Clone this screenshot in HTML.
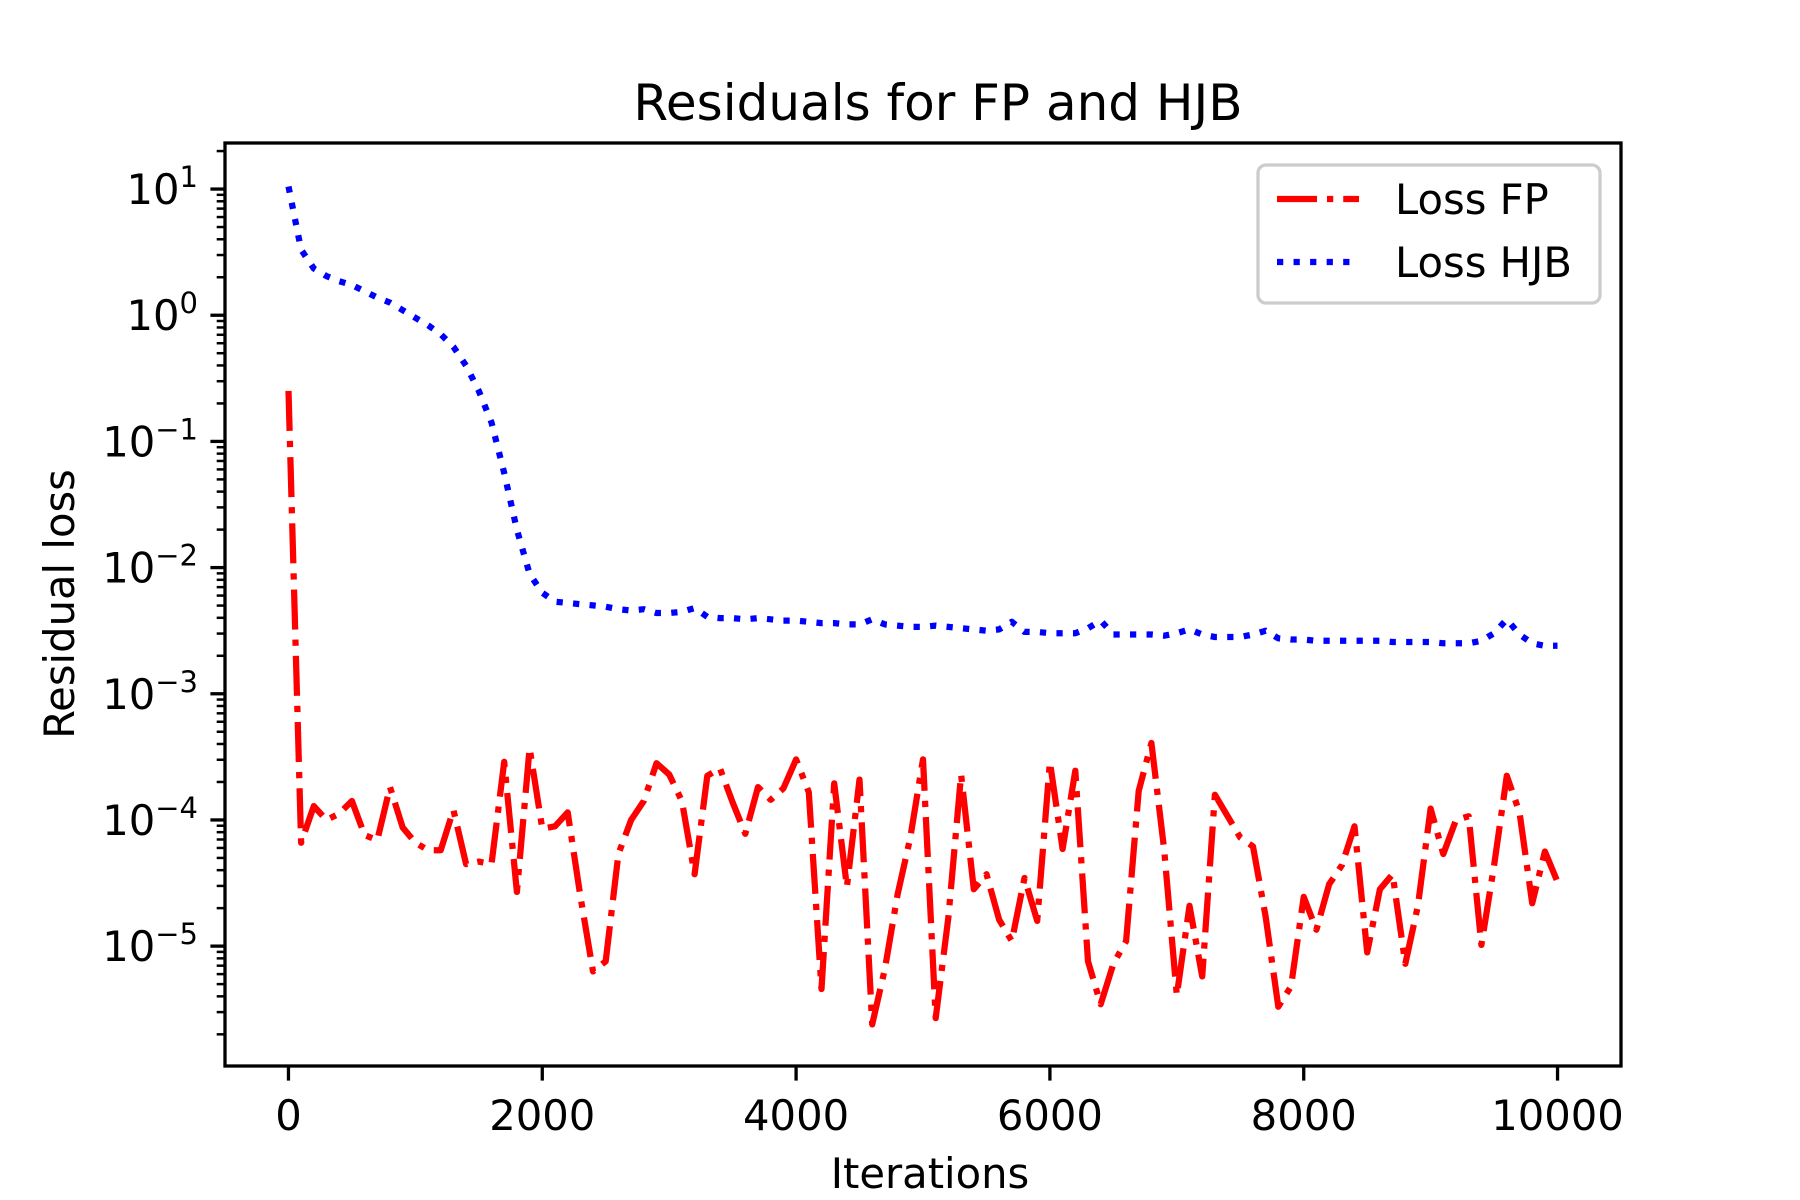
<!DOCTYPE html>
<html><head><meta charset="utf-8"><style>
html,body{margin:0;padding:0;background:#fff;}
svg{display:block;font-family:"DejaVu Sans","Liberation Sans",sans-serif;}
</style></head><body>
<svg id="chart" width="1800" height="1200" viewBox="0 0 1800 1200" xmlns="http://www.w3.org/2000/svg">
<rect width="1800" height="1200" fill="#fff"/>
<text x="938" y="120" font-size="50" text-anchor="middle">Residuals for FP and HJB</text>
<g id="plot"></g>
<g id="axes"></g>
<text x="930" y="1188" font-size="41.7" text-anchor="middle">Iterations</text>
<text x="0" y="0" font-size="41.7" text-anchor="middle" transform="translate(74,604) rotate(-90)">Residual loss</text>
<g>
<rect x="1258" y="165" width="342" height="138" rx="8" fill="#fff" fill-opacity="0.8" stroke="#cccccc" stroke-width="3.3"/>
<g>
<line x1="1277" y1="199" x2="1359" y2="199" stroke="#ff0000" stroke-width="6.25" stroke-dasharray="40,10,6.25,10"/>
<text x="1395" y="214" font-size="41.7">Loss FP</text></g>
<g>
<line x1="1277" y1="262" x2="1359" y2="262" stroke="#0000ff" stroke-width="6.25" stroke-dasharray="6.25,10.3"/>
<text x="1395" y="277" font-size="41.7">Loss HJB</text></g>
</g>
</svg>
<script>
// log10 values sampled every 100 iterations
const fpLog = [-0.6,-4.18,-3.89,-4.0,-3.95,-3.85,-4.12,-4.16,-3.74,-4.06,-4.18,-4.24,-4.24,-3.92,-4.35,-4.33,-4.35,-3.54,-4.57,-3.43,
-4.07,-4.05,-3.94,-4.6,-5.2,-5.12,-4.27,-4.0,-3.85,-3.55,-3.64,-3.85,-4.43,-3.65,-3.59,-3.86,-4.11,-3.74,-3.84,-3.75,
-3.52,-3.78,-5.34,-3.71,-4.53,-3.68,-5.62,-5.18,-4.59,-4.14,-3.52,-5.57,-4.77,-3.64,-4.55,-4.43,-4.79,-4.96,-4.46,-4.8,
-3.54,-4.23,-3.61,-5.12,-5.46,-5.14,-4.96,-3.77,-3.39,-4.23,-5.39,-4.68,-5.24,-3.8,-3.97,-4.14,-4.21,-4.77,-5.48,-5.32,
-4.61,-4.87,-4.51,-4.36,-4.05,-5.05,-4.55,-4.43,-5.14,-4.68,-3.91,-4.27,-4.0,-3.97,-4.99,-4.36,-3.65,-3.94,-4.66,-4.25,-4.49];
const hjbLog = [1.02,0.52,0.37,0.31,0.27,0.24,0.19,0.14,0.10,0.04,-0.02,-0.08,-0.15,-0.25,-0.40,-0.60,-0.85,-1.25,-1.70,-2.05,
-2.2,-2.27,-2.28,-2.29,-2.3,-2.31,-2.33,-2.34,-2.33,-2.36,-2.36,-2.35,-2.32,-2.39,-2.40,-2.40,-2.41,-2.40,-2.41,-2.42,
-2.42,-2.43,-2.44,-2.44,-2.45,-2.45,-2.41,-2.45,-2.46,-2.47,-2.47,-2.46,-2.47,-2.48,-2.49,-2.50,-2.49,-2.43,-2.51,-2.51,
-2.52,-2.52,-2.52,-2.48,-2.42,-2.53,-2.53,-2.53,-2.53,-2.54,-2.52,-2.49,-2.53,-2.55,-2.55,-2.55,-2.53,-2.50,-2.56,-2.57,
-2.57,-2.58,-2.58,-2.58,-2.58,-2.58,-2.58,-2.59,-2.59,-2.59,-2.59,-2.60,-2.60,-2.60,-2.58,-2.52,-2.41,-2.53,-2.60,-2.62,-2.62];
const xTicks = [0,2000,4000,6000,8000,10000];
const yTicks = [1,0,-1,-2,-3,-4,-5];
const step = 100;

const L=225,R=1621,T=143,B=1066;
const xMin=-500,xMax=10500,yMin=-5.95,yMax=1.365;
const sx=v=>L+(v-xMin)/(xMax-xMin)*(R-L);
const sy=v=>B-(v-yMin)/(yMax-yMin)*(B-T);
const NS='http://www.w3.org/2000/svg';
const plot=document.getElementById('plot'), axes=document.getElementById('axes');
function mk(tag,attrs,parent){const e=document.createElementNS(NS,tag);for(const k in attrs)e.setAttribute(k,attrs[k]);parent.appendChild(e);return e;}

const clip=mk('clipPath',{id:'clp'},plot);
mk('rect',{x:L,y:T,width:R-L,height:B-T},clip);
function series(arr,color,dash,name){
  const d=arr.map((v,i)=>(i?'L':'M')+sx(i*step).toFixed(1)+','+sy(v).toFixed(1)).join(' ');
  const p=mk('path',{d:d,fill:'none',stroke:color,'stroke-width':6.25,'stroke-dasharray':dash,'clip-path':'url(#clp)','stroke-linejoin':'round'},plot);
  
  
}
series(fpLog,'#ff0000','40,10,6.25,10','loss-fp-line');
series(hjbLog,'#0000ff','6.25,10.3','loss-hjb-line');

xTicks.forEach(t=>{
  const x=sx(t);
  mk('line',{x1:x,y1:B,x2:x,y2:B+14.6,stroke:'#000','stroke-width':3.3},axes);
  const tx=mk('text',{x:x,y:1130,'font-size':41.7,'text-anchor':'middle'},axes);
  tx.textContent=t;
  
  
});
for(let d=-6;d<=1;d++){
  for(let m=2;m<=9;m++){
    const v=d+Math.log10(m);
    if(v<yMin||v>yMax)continue;
    mk('line',{x1:L,y1:sy(v),x2:L-8.3,y2:sy(v),stroke:'#000','stroke-width':2.5},axes);
  }
}
yTicks.forEach(t=>{
  const y=sy(t);
  mk('line',{x1:L,y1:y,x2:L-14.6,y2:y,stroke:'#000','stroke-width':3.3},axes);
  const tx=mk('text',{x:198,y:y+15,'font-size':41.7,'text-anchor':'end'},axes);
  
  
  tx.appendChild(document.createTextNode('10'));
  const sup=mk('tspan',{dy:-17,'font-size':29},tx);
  sup.textContent=(t<0?'\u2212':'')+Math.abs(t);
});
mk('rect',{x:L,y:T,width:R-L,height:B-T,fill:'none',stroke:'#000','stroke-width':3.3},axes);
</script>
</body></html>
